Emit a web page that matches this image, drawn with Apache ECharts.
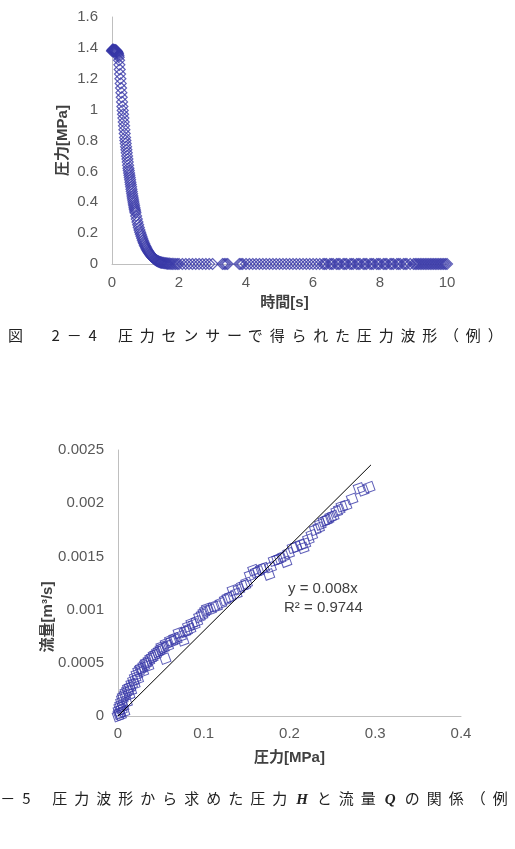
<!DOCTYPE html>
<html>
<head>
<meta charset="utf-8">
<script src="https://cdn.jsdelivr.net/npm/echarts@6/dist/echarts.min.js"></script>
<style>
  html, body { margin: 0; padding: 0; background: #fff; overflow: hidden; }
  #chart { position: absolute; left: 0; top: 0; width: 515px; height: 849px; }
  .cap {
    position: absolute;
    white-space: nowrap;
    font-family: "Noto Sans CJK JP", sans-serif;
    font-size: 15px;
    line-height: 20px;
    color: #222;
  }
  .cap i { font-family: "Liberation Serif", serif; font-weight: bold; margin: 0 2px; }
</style>
</head>
<body>
<div id="chart"></div>
<div class="cap" style="top:325px;left:8px;letter-spacing:6.8px">図　2－4&#8194;圧力センサーで得られた圧力波形（例）</div>
<div class="cap" style="top:788px;left:-59px;letter-spacing:7px">図　2－5&#8194;圧力波形から求めた圧力<i>H</i>と流量<i>Q</i>の関係（例）</div>
<script>
// top chart: pressure wave, time [s] / pressure [MPa]
const waveTime = [
  0.00, 0.01, 0.02, 0.03, 0.04, 0.05, 0.06, 0.07, 0.08, 0.09,
  0.10, 0.11, 0.12, 0.13, 0.14, 0.15, 0.16, 0.17, 0.18, 0.19,
  0.20, 0.21, 0.22, 0.23, 0.24, 0.25, 0.26, 0.27, 0.28, 0.29,
  0.30, 0.31, 0.32, 0.33, 0.34, 0.35, 0.36, 0.37, 0.38, 0.39,
  0.40, 0.41, 0.42, 0.43, 0.44, 0.45, 0.46, 0.47, 0.48, 0.49,
  0.50, 0.51, 0.52, 0.53, 0.54, 0.55, 0.56, 0.57, 0.58, 0.59,
  0.60, 0.61, 0.62, 0.63, 0.64, 0.65, 0.66, 0.67, 0.68, 0.69,
  0.70, 0.72, 0.74, 0.76, 0.78, 0.80, 0.82, 0.84, 0.86, 0.88,
  0.90, 0.92, 0.94, 0.96, 0.98, 1.00, 1.02, 1.04, 1.06, 1.08,
  1.10, 1.12, 1.14, 1.16, 1.18, 1.20, 1.22, 1.24, 1.26, 1.28,
  1.30, 1.32, 1.34, 1.36, 1.38, 1.40, 1.42, 1.44, 1.46, 1.48,
  1.50, 1.53, 1.56, 1.59, 1.62, 1.65, 1.68, 1.72, 1.76, 1.80, 1.85
];
const wavePressure = [
  1.380, 1.385, 1.380, 1.390, 1.385, 1.380, 1.385, 1.380, 1.385, 1.380,
  1.380, 1.385, 1.380, 1.380, 1.375, 1.375, 1.370, 1.365, 1.360, 1.350,
  1.340, 1.320, 1.290, 1.260, 1.230, 1.200, 1.170, 1.140, 1.110, 1.080,
  1.050, 1.020, 0.995, 0.970, 0.945, 0.920, 0.895, 0.870, 0.845, 0.820,
  0.800, 0.780, 0.760, 0.740, 0.720, 0.700, 0.680, 0.660, 0.640, 0.620,
  0.605, 0.590, 0.575, 0.560, 0.545, 0.530, 0.515, 0.500, 0.485, 0.470,
  0.455, 0.440, 0.427, 0.414, 0.401, 0.389, 0.377, 0.365, 0.354, 0.343,
  0.332, 0.311, 0.291, 0.272, 0.254, 0.237, 0.221, 0.206, 0.192, 0.179,
  0.166, 0.154, 0.143, 0.132, 0.122, 0.113, 0.104, 0.096, 0.088, 0.081,
  0.074, 0.068, 0.062, 0.056, 0.051, 0.046, 0.042, 0.038, 0.034, 0.030,
  0.027, 0.024, 0.021, 0.019, 0.017, 0.015, 0.013, 0.011, 0.010, 0.009,
  0.008, 0.007, 0.006, 0.005, 0.004, 0.003, 0.002, 0.002, 0.001, 0.001, 0.001
];
// tail of the wave: pressure reads 0 at each of these times
const tailTime = [
  1.90, 1.95, 2.00, 2.10, 2.20, 2.30, 2.40, 2.50, 2.60, 2.70, 2.80, 2.90, 3.00,
  3.30, 3.35, 3.40, 3.45, 3.80, 3.85, 3.90, 4.00, 4.10, 4.20, 4.30, 4.40, 4.50,
  4.60, 4.70, 4.80, 4.90, 5.00, 5.10, 5.20, 5.30, 5.40, 5.50, 5.60, 5.70, 5.80,
  5.90, 6.00, 6.10, 6.20, 6.30, 6.35, 6.40, 6.50, 6.55, 6.60, 6.70, 6.75, 6.80,
  6.90, 6.95, 7.00, 7.10, 7.15, 7.20, 7.30, 7.35, 7.40, 7.50, 7.55, 7.60, 7.70,
  7.75, 7.80, 7.90, 7.95, 8.00, 8.10, 8.15, 8.20, 8.30, 8.35, 8.40, 8.50, 8.55,
  8.60, 8.70, 8.75, 8.80, 8.90, 9.00, 9.05, 9.10, 9.15, 9.20, 9.25, 9.30, 9.35,
  9.40, 9.45, 9.50, 9.55, 9.60, 9.65, 9.70, 9.75, 9.80, 9.85, 9.90, 9.95, 10.00
];

// bottom chart: pressure [MPa] vs flow [m3/s]
const flowPoints = [
  [0.000, 0.000000], [0.001, 0.000020], [0.001, 0.000050], [0.002, 0.000080],
  [0.002, 0.000030], [0.003, 0.000100], [0.003, 0.000010], [0.004, 0.000130],
  [0.004, 0.000060], [0.005, 0.000160], [0.006, 0.000180], [0.006, 0.000090],
  [0.007, 0.000040], [0.008, 0.000200], [0.009, 0.000220], [0.010, 0.000130],
  [0.011, 0.000240], [0.012, 0.000260], [0.013, 0.000200], [0.014, 0.000270],
  [0.015, 0.000240], [0.016, 0.000300], [0.018, 0.000330], [0.019, 0.000300],
  [0.020, 0.000360], [0.022, 0.000390], [0.023, 0.000350], [0.024, 0.000420],
  [0.026, 0.000440], [0.027, 0.000450], [0.029, 0.000420], [0.030, 0.000470],
  [0.032, 0.000490], [0.033, 0.000500], [0.035, 0.000470], [0.036, 0.000520],
  [0.038, 0.000540], [0.040, 0.000550], [0.042, 0.000570], [0.044, 0.000580],
  [0.046, 0.000600], [0.048, 0.000610], [0.050, 0.000630], [0.051, 0.000650],
  [0.053, 0.000640], [0.055, 0.000540], [0.056, 0.000680], [0.058, 0.000660],
  [0.061, 0.000710], [0.063, 0.000700], [0.066, 0.000730], [0.068, 0.000720],
  [0.071, 0.000780], [0.073, 0.000750], [0.076, 0.000710], [0.078, 0.000790],
  [0.080, 0.000800], [0.082, 0.000840], [0.084, 0.000820], [0.086, 0.000870],
  [0.089, 0.000860], [0.092, 0.000890], [0.095, 0.000930], [0.098, 0.000950],
  [0.100, 0.000970], [0.102, 0.000990], [0.104, 0.001010], [0.108, 0.001000],
  [0.112, 0.001030], [0.115, 0.001030], [0.120, 0.001060], [0.125, 0.001090],
  [0.128, 0.001110], [0.131, 0.001120], [0.134, 0.001180], [0.138, 0.001150],
  [0.141, 0.001190], [0.145, 0.001220], [0.148, 0.001230], [0.150, 0.001250],
  [0.154, 0.001320], [0.158, 0.001370], [0.161, 0.001350], [0.164, 0.001360],
  [0.167, 0.001380], [0.170, 0.001390], [0.176, 0.001330], [0.178, 0.001400],
  [0.182, 0.001460], [0.186, 0.001470], [0.189, 0.001480], [0.193, 0.001500],
  [0.196, 0.001450], [0.199, 0.001530], [0.204, 0.001580], [0.208, 0.001590],
  [0.213, 0.001610], [0.216, 0.001580], [0.218, 0.001620], [0.222, 0.001660],
  [0.226, 0.001700], [0.230, 0.001750], [0.234, 0.001770], [0.236, 0.001800],
  [0.240, 0.001830], [0.243, 0.001840], [0.245, 0.001850], [0.248, 0.001870],
  [0.251, 0.001880], [0.255, 0.001920], [0.258, 0.001940], [0.261, 0.001970],
  [0.266, 0.001980], [0.273, 0.002040], [0.281, 0.002140], [0.286, 0.002120],
  [0.293, 0.002150]
];
const trendSlope = 0.008;        // y = 0.008x
const trendRange = [0, 0.295];   // trendline drawn across the data
const trendText = ['y = 0.008x', 'R² = 0.9744'];

const tickColor = '#595959';
const axisLineColor = '#bfbfbf';
const markerColor = '#3838a8';
const labelFont = 'Liberation Sans';
const nameFont = 'Liberation Sans, Noto Sans CJK JP';

const chart = echarts.init(document.getElementById('chart'), null, { renderer: 'canvas' });

function valueAxis(opts) {
  return Object.assign({
    type: 'value',
    nameLocation: 'middle',
    nameMoveOverlap: false,
    nameTextStyle: { color: '#404040', fontSize: 15, fontWeight: 'bold', fontFamily: nameFont },
    axisLine: { show: true, lineStyle: { color: axisLineColor, width: 1 } },
    axisTick: { show: false },
    splitLine: { show: false }
  }, opts);
}

const wavePoints = waveTime.map((t, i) => [t, wavePressure[i]]);
const tailPoints = tailTime.map(t => [t, 0]);

chart.setOption({
  animation: false,
  grid: [
    { left: 112, top: 17, width: 335, height: 247 },
    { left: 118, top: 450, width: 343, height: 266 }
  ],
  xAxis: [
    valueAxis({ gridIndex: 0, min: 0, max: 10, interval: 2, name: '時間[s]', nameGap: 31,
      nameTextStyle: { color: '#404040', fontSize: 15, fontWeight: 'bold', fontFamily: nameFont, padding: [0, 0, 0, 10] },
      axisLabel: { color: tickColor, fontSize: 15, fontFamily: labelFont, margin: 11 } }),
    valueAxis({ gridIndex: 1, min: 0, max: 0.4, interval: 0.1, name: '圧力[MPa]', nameGap: 34,
      axisLabel: { color: tickColor, fontSize: 15, fontFamily: labelFont, margin: 10 } })
  ],
  yAxis: [
    valueAxis({ gridIndex: 0, min: 0, max: 1.6, interval: 0.2, name: '圧力[MPa]', nameGap: 42,
      axisLabel: { color: tickColor, fontSize: 15, fontFamily: labelFont, margin: 14 } }),
    valueAxis({ gridIndex: 1, min: 0, max: 0.0025, interval: 0.0005, name: '流量[m³/s]', nameGap: 63,
      nameTextStyle: { color: '#404040', fontSize: 15, fontWeight: 'bold', fontFamily: nameFont, padding: [0, 68, 0, 0] },
      axisLabel: { color: tickColor, fontSize: 15, fontFamily: labelFont, margin: 14,
        formatter: v => v === 0 ? '0' : String(+v.toFixed(4)) } })
  ],
  series: [
    {
      type: 'scatter', xAxisIndex: 0, yAxisIndex: 0,
      data: wavePoints.concat(tailPoints),
      symbol: 'diamond', symbolSize: 11,
      itemStyle: { color: 'rgba(0,0,0,0)', borderColor: markerColor, borderWidth: 1.2 }
    },
    {
      type: 'scatter', xAxisIndex: 1, yAxisIndex: 1,
      data: flowPoints,
      symbol: 'rect', symbolSize: 9, symbolRotate: 20,
      itemStyle: { color: 'rgba(0,0,0,0)', borderColor: markerColor, borderWidth: 1 }
    },
    {
      type: 'line', xAxisIndex: 1, yAxisIndex: 1,
      data: trendRange.map(x => [x, x * trendSlope]),
      symbol: 'none',
      lineStyle: { color: '#000', width: 1 }
    }
  ],
  graphic: [
    { type: 'text', left: 288, top: 581, style: { text: trendText[0], fill: '#404040', font: '15px Liberation Sans' } },
    { type: 'text', left: 284, top: 600, style: { text: trendText[1], fill: '#404040', font: '15px Liberation Sans' } }
  ]
});
</script>
</body>
</html>
